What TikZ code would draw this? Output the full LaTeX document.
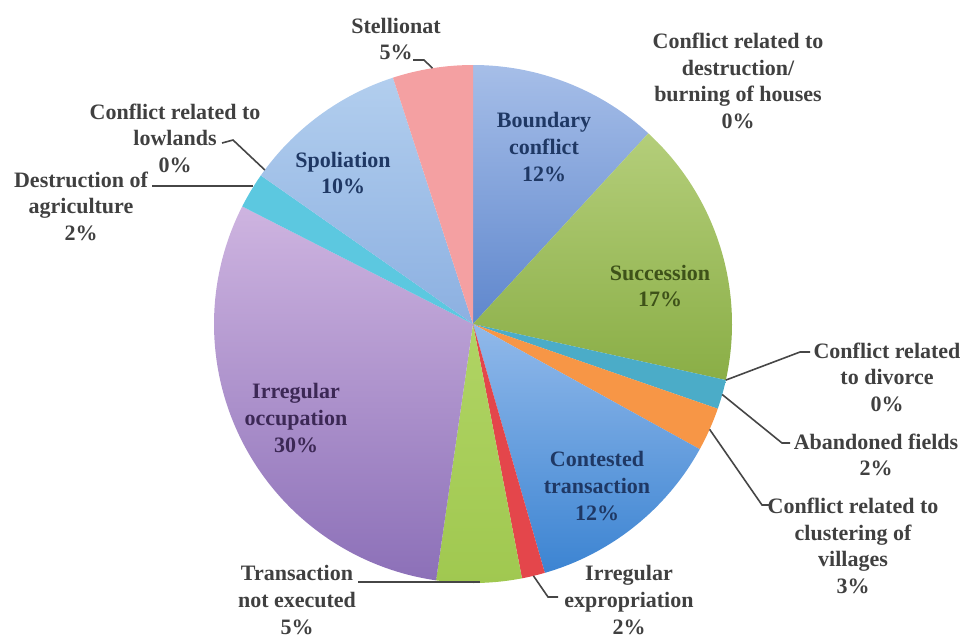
\documentclass[tikz,border=0pt]{standalone}
\usepackage{fontspec}
\setmainfont{Liberation Serif}
\definecolor{txtgrey}{RGB}{64,64,64}
\definecolor{linegrey}{RGB}{70,70,70}
\definecolor{bndTop}{RGB}{166,190,232}
\definecolor{bndBot}{RGB}{95,135,205}
\definecolor{sucTop}{RGB}{180,206,122}
\definecolor{sucBot}{RGB}{138,174,70}
\definecolor{abnd}{RGB}{75,172,200}
\definecolor{clus}{RGB}{247,150,70}
\definecolor{conTop}{RGB}{145,185,234}
\definecolor{conBot}{RGB}{60,132,210}
\definecolor{expr}{RGB}{228,70,75}
\definecolor{transTop}{RGB}{176,212,100}
\definecolor{transBot}{RGB}{160,200,80}
\definecolor{occTop}{RGB}{206,180,224}
\definecolor{occBot}{RGB}{140,112,184}
\definecolor{agri}{RGB}{92,200,224}
\definecolor{spolTop}{RGB}{178,206,238}
\definecolor{spolBot}{RGB}{140,176,225}
\definecolor{stel}{RGB}{244,160,162}
\definecolor{bndTxt}{RGB}{31,56,100}
\definecolor{sucTxt}{RGB}{62,82,25}
\definecolor{occTxt}{RGB}{60,40,85}
% start and end angle, clockwise from the top, then the two colours
\newcommand\PieSlice[4]{%
    \shade[top color=#3,bottom color=#4] (Centre) -- ++({90-#1}:259)
        arc[start angle={90-#1},end angle={90-#2},radius=259] -- cycle;
}
% name a point on the rim, given its angle
\newcommand\RimPoint[2]{%
    \path (Centre) ++(#2:259) coordinate (#1);
}

\begin{document}
\begin{tikzpicture}[x=0.5pt,y=0.5pt,
    lbl/.style={font=\bfseries\fontsize{11}{13.3}\selectfont,text=txtgrey,align=center,inner sep=0pt},
    leader/.style={draw=linegrey,line width=0.8pt}]
    \useasboundingbox (0,0) rectangle (962,-639);
    \coordinate (Centre) at (473,-324);
    % slices
    \PieSlice{0}{42.6}{bndTop}{bndBot}
    \PieSlice{42.6}{102.5}{sucTop}{sucBot}
    \PieSlice{102.5}{109.1}{abnd}{abnd}
    \PieSlice{109.1}{118.9}{clus}{clus}
    \PieSlice{118.9}{163.9}{conTop}{conBot}
    \PieSlice{163.9}{169.1}{expr}{expr}
    \PieSlice{169.1}{188.2}{transTop}{transBot}
    \PieSlice{188.2}{297}{occTop}{occBot}
    \PieSlice{297}{305}{agri}{agri}
    \PieSlice{305}{342}{spolTop}{spolBot}
    \PieSlice{342}{360}{stel}{stel}
    % labels in the slices
    \node[lbl,text=bndTxt] (boundary) at (544,-147) {Boundary\\conflict\\12\%};
    \node[lbl,text=sucTxt] (succession) at (660,-286) {Succession\\17\%};
    \node[lbl,text=bndTxt] (contested) at (597,-486) {Contested\\transaction\\12\%};
    \node[lbl,text=occTxt] (occupation) at (296,-418) {Irregular\\occupation\\30\%};
    \node[lbl,text=bndTxt] (spoliation) at (343,-173) {Spoliation\\10\%};
    % labels outside
    \node[lbl] (stellionat) at (396,-39) {Stellionat\\5\%};
    \node[lbl] (burning) at (738,-81) {Conflict related to\\destruction/\\burning of houses\\0\%};
    \node[lbl] (lowlands) at (175,-138) {Conflict related to\\lowlands\\0\%};
    \node[lbl] (agriculture) at (81,-206) {Destruction of\\agriculture\\2\%};
    \node[lbl] (divorce) at (887,-377) {Conflict related\\to divorce\\0\%};
    \node[lbl] (abandoned) at (876,-455) {Abandoned fields\\2\%};
    \node[lbl] (clustering) at (853,-546) {Conflict related to\\clustering of\\villages\\3\%};
    \node[lbl] (expropriation) at (629,-600) {Irregular\\expropriation\\2\%};
    \node[lbl] (notexecuted) at (297,-600) {Transaction\\not executed\\5\%};
    % leader lines
    \RimPoint{stellEdge}{99}
    \RimPoint{lowEdge}{143.5}
    \RimPoint{divEdge}{-12.5}
    \RimPoint{abndEdge}{-15.8}
    \RimPoint{clusEdge}{-24}
    \RimPoint{exprEdge}{-76.5}
    \coordinate (stellTick) at (413,-60);
    \coordinate (lowTick) at (222,-143);
    \coordinate (agriTick) at (152,-186);
    \coordinate (divTick) at (810,-352);
    \coordinate (abndTick) at (790,-443);
    \coordinate (clusTick) at (770,-505);
    \coordinate (exprTick) at (558,-597);
    \coordinate (transTick) at (358,-582);
    \draw[leader] (stellTick) -- ++(11,0) -- (stellEdge);
    \draw[leader] (lowTick) -- ++(11,3) -- (lowEdge);
    \draw[leader] (agriTick) -- (agriTick -| 253,0);
    \draw[leader] (divTick) -- ++(-10,0) -- (divEdge);
    \draw[leader] (abndTick) -- ++(-8,0) -- (abndEdge);
    \draw[leader] (clusTick) -- ++(-8,0) -- (clusEdge);
    \draw[leader] (exprTick) -- ++(-10,0) -- (exprEdge);
    \draw[leader] (transTick) -- (transTick -| 480,0);
\end{tikzpicture}
\end{document}
